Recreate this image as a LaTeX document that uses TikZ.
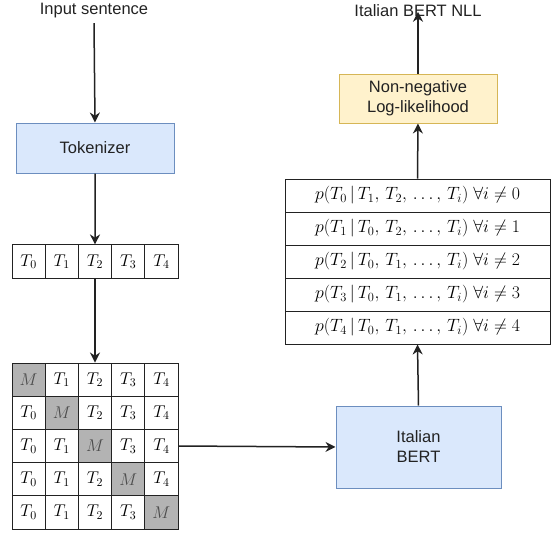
\RequirePackage{fix-cm}
\documentclass[tikz,border=0pt]{standalone}
\usepackage{fontspec}
\setmainfont{Liberation Sans}
\usetikzlibrary{arrows.meta}
\definecolor{blueF}{HTML}{DAE8FC}
\definecolor{blueD}{HTML}{6C8EBF}
\definecolor{yelF}{HTML}{FFF2CC}
\definecolor{yelD}{HTML}{D6B656}
\definecolor{maskF}{HTML}{B3B3B3}
\definecolor{lineC}{HTML}{222222}
\tikzset{
  lbl/.style={font=\fontsize{16.5}{19}\selectfont, text=lineC, inner sep=0pt},
  proc/.style={draw, line width=1pt, font=\fontsize{16.5}{20}\selectfont, text=lineC, align=center},
  cell/.style={draw=lineC, line width=0.9pt, minimum width=33.2pt, minimum height=33.2pt, inner sep=0pt, font=\fontsize{17}{20}\selectfont},
  mask/.style={cell, fill=maskF, text=black!70},
  prow/.style={draw=lineC, line width=0.9pt, minimum width=265pt, minimum height=33pt, inner sep=0pt, font=\fontsize{17.8}{20}\selectfont},
  arr/.style={draw=lineC, line width=1.5pt, -{Stealth[length=10pt,width=10pt]}}
}
\begin{document}
\begin{tikzpicture}[x=1pt,y=-1pt]
\useasboundingbox (0,0) rectangle (558,533);
% labels
\node[lbl] (in) at (94,10.5) {Input sentence};
\node[lbl] (out) at (418,10.5) {Italian BERT NLL};
% tokenizer
\node[proc, fill=blueF, draw=blueD, minimum width=158pt, minimum height=50pt] (tok) at (95,148) {Tokenizer};
% token row
\foreach \i in {0,...,4} {
  \node[cell] (t\i) at ({12+33.2*(\i+0.5)},261.5) {$T_{\i}$};
}
% masked matrix
\foreach \r in {0,...,4} {
  \foreach \c in {0,...,4} {
    \ifnum\r=\c
      \node[mask] (m\r\c) at ({12+33.2*(\c+0.5)},{363+33.2*(\r+0.5)}) {$M$};
    \else
      \node[cell] (m\r\c) at ({12+33.2*(\c+0.5)},{363+33.2*(\r+0.5)}) {$T_{\c}$};
    \fi
  }
}
% BERT
\node[proc, fill=blueF, draw=blueD, minimum width=165pt, minimum height=82pt] (bert) at (418.5,447) {Italian\\BERT};
% probability rows
\node[prow] (p0) at (417.5,195.5) {$p(T_0\,|\,T_1,\,T_2,\,\ldots,\,T_i)\;\forall i\neq 0$};
\node[prow] (p1) at (417.5,228.5) {$p(T_1\,|\,T_0,\,T_2,\,\ldots,\,T_i)\;\forall i\neq 1$};
\node[prow] (p2) at (417.5,261.5) {$p(T_2\,|\,T_0,\,T_1,\,\ldots,\,T_i)\;\forall i\neq 2$};
\node[prow] (p3) at (417.5,294.5) {$p(T_3\,|\,T_0,\,T_1,\,\ldots,\,T_i)\;\forall i\neq 3$};
\node[prow] (p4) at (417.5,327.5) {$p(T_4\,|\,T_0,\,T_1,\,\ldots,\,T_i)\;\forall i\neq 4$};
% NLL
\node[proc, fill=yelF, draw=yelD, minimum width=158pt, minimum height=49pt] (nll) at (418,98.5) {Non-negative\\Log-likelihood};
% connectors
\draw[arr] ([yshift=-5pt]in.south) -- (tok.north);
\draw[arr] (tok.south) -- (t2.north);
\draw[arr] (t2.south) -- (m02.north);
\draw[arr] (m24.east) -- (bert.west);
\draw[arr] (bert.north) -- (p4.south);
\draw[arr] (p0.north) -- (nll.south);
\draw[arr] (nll.north) -- ([yshift=5pt]out.south);
\end{tikzpicture}
\end{document}
